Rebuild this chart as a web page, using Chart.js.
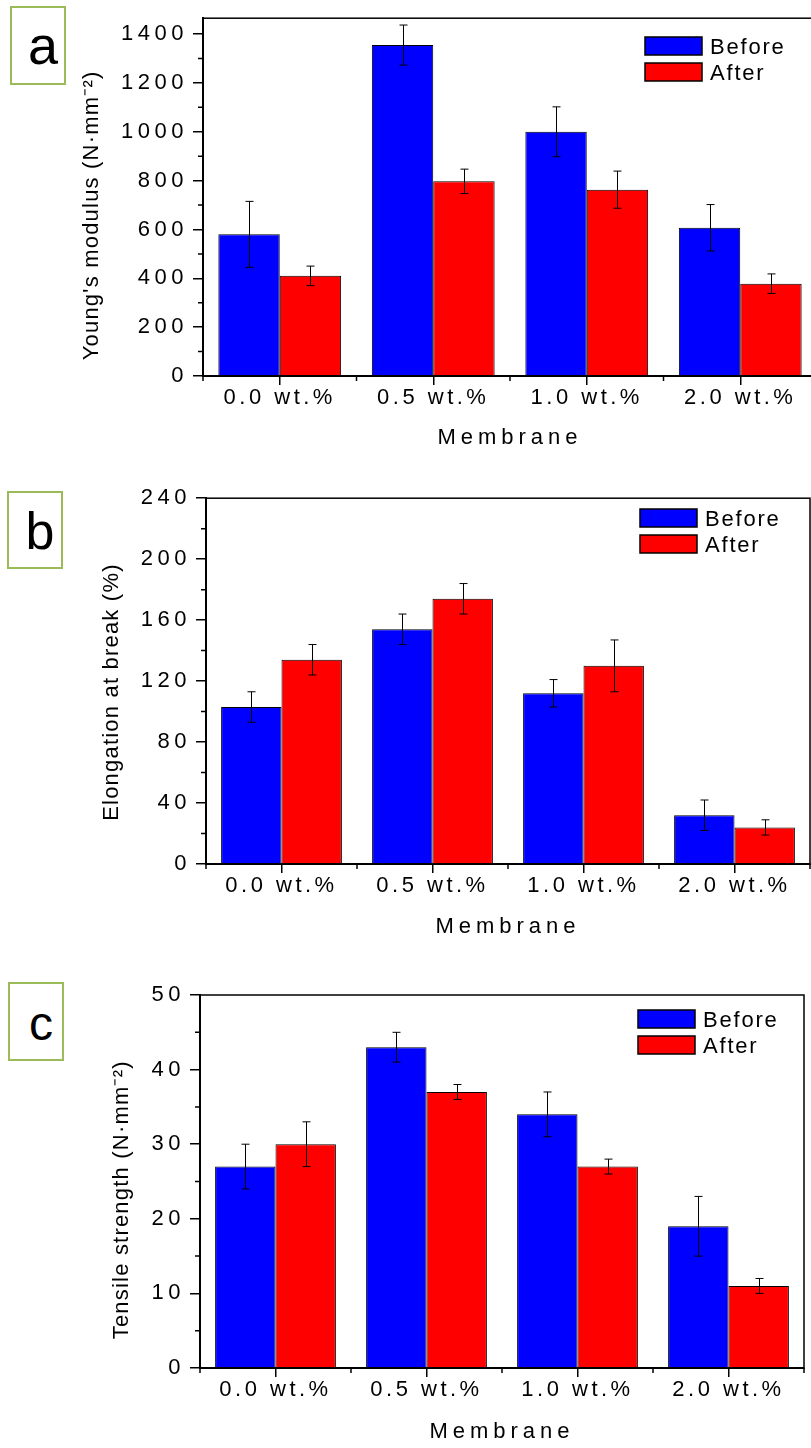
<!DOCTYPE html>
<html lang="en">
<head>
<meta charset="UTF-8">
<title>Membrane mechanical properties</title>
<script src="https://cdn.jsdelivr.net/npm/chart.js"></script>
<style>
    body { margin: 0; background: #fff; font-family: 'Liberation Sans', Arial, sans-serif; }
    .page { position: relative; width: 811px; height: 1448px; overflow: hidden; }
    canvas { position: absolute; left: 0; }
    .tag {
        position: absolute;
        box-sizing: border-box;
        border: 2px solid #9bbb59;
        background: #fff;
        color: #000;
        text-align: center;
        padding-left: 10px;
    }
</style>
</head>
<body>
<div class="page">
    <canvas id="chartA" width="830" height="480" style="top:0"></canvas>
    <canvas id="chartB" width="811" height="480" style="top:480px"></canvas>
    <canvas id="chartC" width="811" height="488" style="top:960px"></canvas>

    <!-- panel letters -->
    <div class="tag" style="left:10px; top:6px; width:56px; height:79px; font-size:54px; line-height:75px;">a</div>
    <div class="tag" style="left:7px; top:491px; width:56px; height:78px; font-size:52px; line-height:77px;">b</div>
    <div class="tag" style="left:8px; top:982px; width:56px; height:79px; font-size:48px; line-height:80px;">c</div>
</div>

<script>
    const FONT = "'Liberation Sans', Arial, sans-serif";

    // categories and series
    const categories = ['0.0 wt.%', '0.5 wt.%', '1.0 wt.%', '2.0 wt.%'];
    const seriesNames = ['Before', 'After'];
    const seriesColors = ['#0000ff', '#ff0000'];

    // (a) Young's modulus
    const modulusBefore = [580, 1355, 1000, 607];
    const modulusAfter = [410, 797, 763, 378];
    const modulusBeforeErr = [135, 82, 102, 95];
    const modulusAfterErr = [40, 50, 76, 40];
    const modulusTicks = ['0', '200', '400', '600', '800', '1000', '1200', '1400'];

    // (b) elongation at break
    const elongationBefore = [103, 154, 112, 32];
    const elongationAfter = [134, 174, 130, 24];
    const elongationBeforeErr = [10, 10, 9, 10];
    const elongationAfterErr = [10, 10, 17, 5];
    const elongationTicks = ['0', '40', '80', '120', '160', '200', '240'];

    // (c) tensile strength
    const tensileBefore = [27, 43, 34, 19];
    const tensileAfter = [30, 37, 27, 11];
    const tensileBeforeErr = [3, 2, 3, 4];
    const tensileAfterErr = [3, 1, 1, 1];
    const tensileTicks = ['0', '10', '20', '30', '40', '50'];

    // letter spacing for axis texts (canvas letterSpacing)
    const spacingPlugin = {
        id: 'spacing',
        beforeDraw(chart, args, opts) {
            Object.values(chart.scales).forEach(scale => {
                if (scale._spaced) return;
                scale._spaced = true;
                const isX = scale.axis === 'x';
                const drawLabels = scale.drawLabels;
                const drawTitle = scale.drawTitle;
                scale.drawLabels = function (area) {
                    const old = this.ctx.letterSpacing;
                    this.ctx.letterSpacing = (isX ? opts.xTicks : opts.yTicks) + 'px';
                    drawLabels.call(this, area);
                    this.ctx.letterSpacing = old;
                };
                scale.drawTitle = function () {
                    const old = this.ctx.letterSpacing;
                    this.ctx.letterSpacing = (isX ? opts.xTitle : opts.yTitle) + 'px';
                    drawTitle.call(this);
                    this.ctx.letterSpacing = old;
                };
            });
        }
    };

    // error bars from dataset.errors
    const errorBarPlugin = {
        id: 'errorBars',
        afterDatasetsDraw(chart) {
            const ctx = chart.ctx;
            const y = chart.scales.y;
            ctx.save();
            ctx.strokeStyle = '#000';
            ctx.lineWidth = 1;
            chart.data.datasets.forEach((ds, i) => {
                chart.getDatasetMeta(i).data.forEach((bar, j) => {
                    const v = ds.data[j], e = ds.errors[j];
                    const x = Math.round(bar.x) + 0.5;
                    const top = y.getPixelForValue(v + e);
                    const bot = y.getPixelForValue(v - e);
                    ctx.beginPath();
                    ctx.moveTo(x, top); ctx.lineTo(x, bot);
                    ctx.moveTo(x - 4, top); ctx.lineTo(x + 4, top);
                    ctx.moveTo(x - 4, bot); ctx.lineTo(x + 4, bot);
                    ctx.stroke();
                });
            });
            ctx.restore();
        }
    };

    // box around plot + minor ticks
    const framePlugin = {
        id: 'frame',
        afterDraw(chart, args, opts) {
            const { ctx, chartArea: a, scales: { x, y } } = chart;
            ctx.save();
            ctx.strokeStyle = '#000';
            ctx.lineWidth = 1.5;
            ctx.strokeRect(a.left, a.top, a.right - a.left, a.bottom - a.top);
            ctx.beginPath();
            for (let v = opts.minorStep; v < y.max; v += opts.minorStep * 2) {
                const py = y.getPixelForValue(v);
                ctx.moveTo(a.left - 5, py); ctx.lineTo(a.left, py);
            }
            for (let i = 0; i <= chart.data.labels.length; i++) {
                const px = x.getPixelForValue(i - 0.5);
                ctx.moveTo(px, a.bottom); ctx.lineTo(px, a.bottom + 5);
            }
            ctx.stroke();
            ctx.restore();
        }
    };

    // legend inside the plot, top right
    const boxLegendPlugin = {
        id: 'boxLegend',
        afterDraw(chart, args, opts) {
            const ctx = chart.ctx;
            ctx.save();
            ctx.font = '22px ' + FONT;
            ctx.letterSpacing = '1.8px';
            ctx.textBaseline = 'alphabetic';
            chart.data.datasets.forEach((ds, i) => {
                const top = opts.y + i * 26;
                ctx.fillStyle = ds.backgroundColor;
                ctx.fillRect(opts.x, top, 57, 18);
                ctx.strokeStyle = '#000';
                ctx.lineWidth = 1.5;
                ctx.strokeRect(opts.x, top, 57, 18);
                ctx.fillStyle = '#000';
                ctx.fillText(ds.label, opts.x + 65, top + 17);
            });
            ctx.restore();
        }
    };

    function makeChart(id, cfg) {
        new Chart(document.getElementById(id), {
            type: 'bar',
            data: {
                labels: categories,
                datasets: [
                    { label: seriesNames[0], data: cfg.before, errors: cfg.beforeErr, backgroundColor: seriesColors[0] },
                    { label: seriesNames[1], data: cfg.after, errors: cfg.afterErr, backgroundColor: seriesColors[1] }
                ].map(ds => Object.assign(ds, {
                    borderColor: '#000',
                    borderWidth: 1,
                    categoryPercentage: 0.8,
                    barPercentage: 1.0
                }))
            },
            options: {
                responsive: false,
                animation: false,
                events: [],
                layout: { padding: { top: cfg.padTop, right: cfg.padRight, left: 0, bottom: 0 } },
                scales: {
                    x: {
                        offset: true,
                        afterFit: s => { s.height = cfg.xHeight; },
                        border: { color: '#000', width: 2 },
                        grid: { offset: false, drawOnChartArea: false, color: '#000', lineWidth: 1.5, tickLength: 9 },
                        ticks: { color: '#000', padding: 0, maxRotation: 0, autoSkip: false, font: { family: FONT, size: 22 } },
                        title: {
                            display: true, text: 'Membrane', color: '#000',
                            font: { family: FONT, size: 22 },
                            padding: { top: 0, bottom: cfg.xTitlePad }
                        }
                    },
                    y: {
                        min: 0,
                        max: cfg.yMax,
                        afterBuildTicks: s => { s.ticks = cfg.ticks.map(t => ({ value: Number(t) })); },
                        afterFit: s => { s.width = cfg.yWidth; },
                        border: { color: '#000', width: 2 },
                        grid: { drawOnChartArea: false, color: '#000', lineWidth: 1.5, tickLength: 10 },
                        ticks: { color: '#000', padding: 5, font: { family: FONT, size: 22 }, callback: v => String(v) },
                        title: {
                            display: true, text: cfg.yTitle, color: '#000',
                            font: { family: FONT, size: 22 },
                            padding: { top: cfg.yTitleX - 13.2, bottom: 0 }
                        }
                    }
                },
                plugins: {
                    legend: { display: false },
                    tooltip: { enabled: false },
                    spacing: { xTicks: 3.5, yTicks: 4.5, xTitle: 5, yTitle: 1.2 },
                    frame: { minorStep: cfg.minorStep },
                    boxLegend: { x: cfg.legendX, y: cfg.legendY }
                }
            },
            plugins: [spacingPlugin, errorBarPlugin, framePlugin, boxLegendPlugin]
        });
    }

    makeChart('chartA', {
        before: modulusBefore, after: modulusAfter,
        beforeErr: modulusBeforeErr, afterErr: modulusAfterErr,
        ticks: modulusTicks, yMax: 1465, minorStep: 100,
        yTitle: "Young's modulus (N\u00b7mm\u207b\u00b2)" + '\u00a0'.repeat(5),
        padTop: 17, padRight: 13, yWidth: 203, xHeight: 104,
        yTitleX: 92, xTitlePad: 29, legendX: 645, legendY: 37
    });

    makeChart('chartB', {
        before: elongationBefore, after: elongationAfter,
        beforeErr: elongationBeforeErr, afterErr: elongationAfterErr,
        ticks: elongationTicks, yMax: 240, minorStep: 20,
        yTitle: 'Elongation at break (%)' + '\u00a0'.repeat(3),
        padTop: 17, padRight: 1, yWidth: 206, xHeight: 96,
        yTitleX: 112, xTitlePad: 20, legendX: 640, legendY: 29
    });

    makeChart('chartC', {
        before: tensileBefore, after: tensileAfter,
        beforeErr: tensileBeforeErr, afterErr: tensileAfterErr,
        ticks: tensileTicks, yMax: 50, minorStep: 5,
        yTitle: 'Tensile strength (N\u00b7mm\u207b\u00b2)' + '\u00a0'.repeat(5),
        padTop: 35, padRight: 7, yWidth: 200, xHeight: 80,
        yTitleX: 122, xTitlePad: 2.5, legendX: 638, legendY: 50
    });
</script>
</body>
</html>
